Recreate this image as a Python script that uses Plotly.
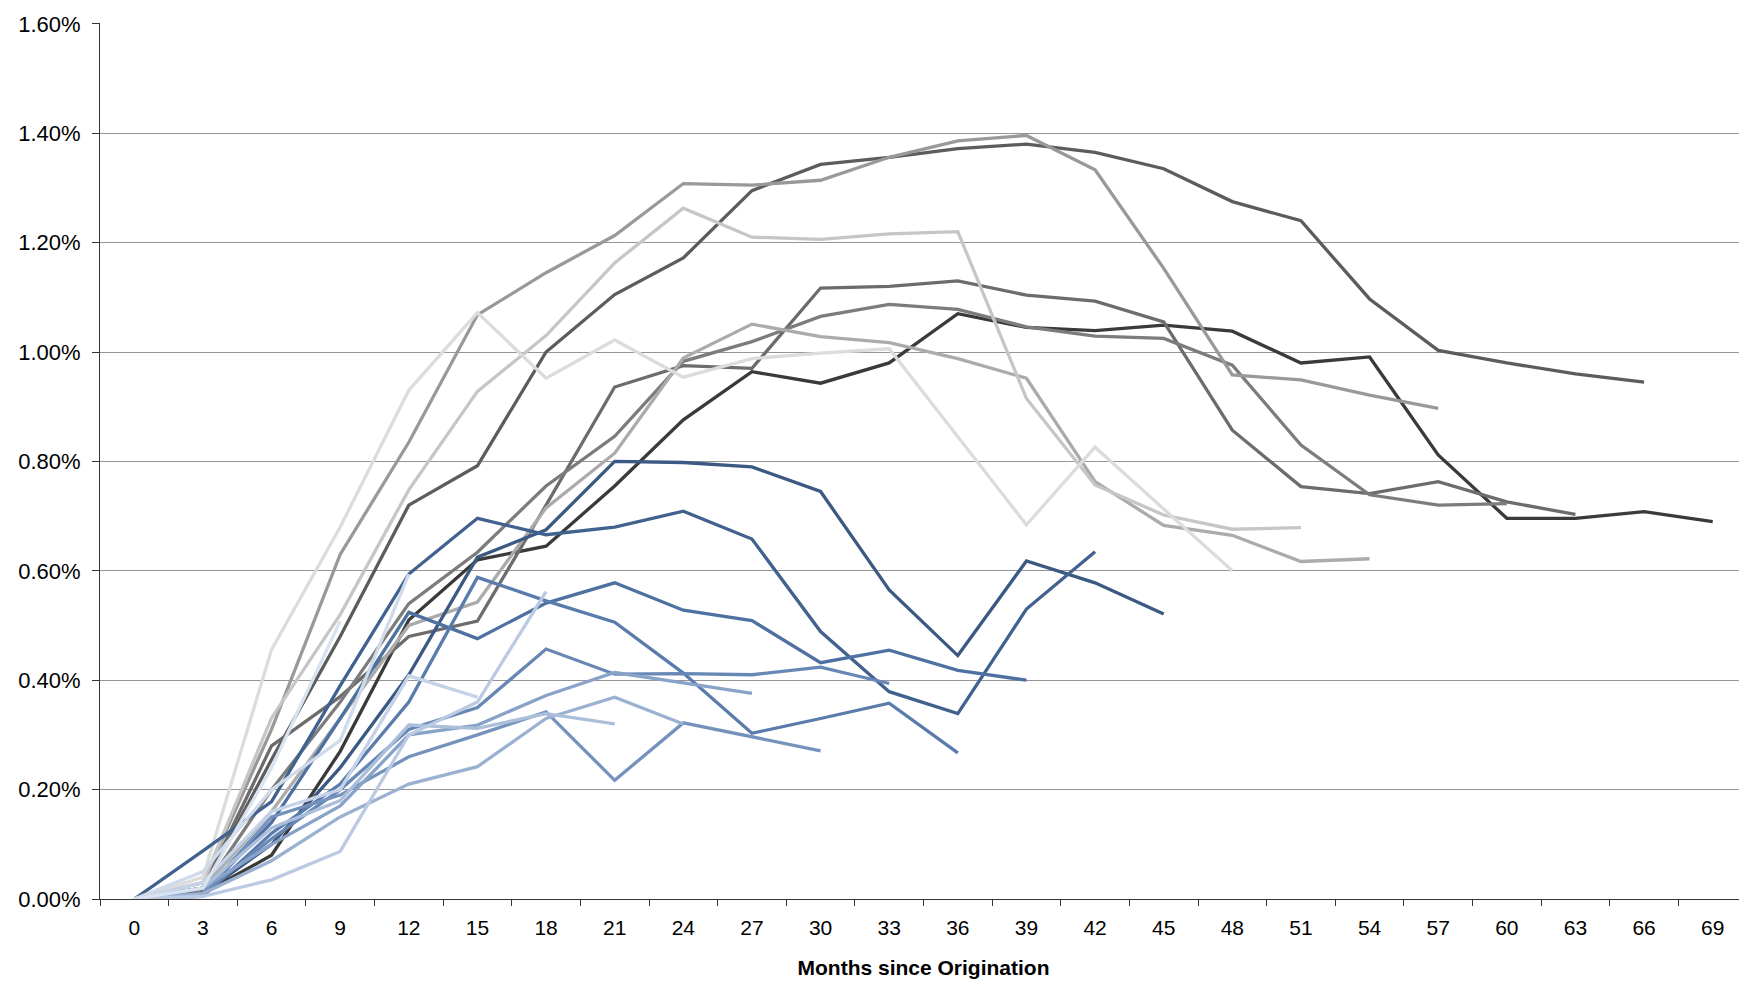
import plotly.graph_objects as go

months = list(range(0, 70, 3))
month_labels = [str(m) for m in months]
y_ticks = [0.0, 0.2, 0.4, 0.6, 0.8, 1.0, 1.2, 1.4, 1.6]
y_tick_labels = [f"{v:.2f}%" for v in y_ticks]

# Cumulative loss rate (%) by months since origination, one list per cohort
g1 = [0, 0.01, 0.08, 0.27, 0.51, 0.62, 0.645, 0.755, 0.876, 0.964, 0.943, 0.98, 1.07, 1.045, 1.039, 1.049, 1.038, 0.98, 0.991, 0.812, 0.696, 0.696, 0.708, 0.69]
g2 = [0, 0.02, 0.255, 0.48, 0.72, 0.792, 1.0, 1.105, 1.172, 1.295, 1.343, 1.356, 1.372, 1.38, 1.365, 1.335, 1.275, 1.24, 1.097, 1.003, 0.98, 0.96, 0.945]
g3 = [0, 0.02, 0.28, 0.37, 0.48, 0.508, 0.72, 0.936, 0.975, 0.97, 1.117, 1.12, 1.13, 1.104, 1.093, 1.055, 0.857, 0.754, 0.741, 0.763, 0.726, 0.703]
g4 = [0, 0.015, 0.2, 0.36, 0.54, 0.634, 0.755, 0.846, 0.983, 1.019, 1.065, 1.087, 1.078, 1.046, 1.029, 1.025, 0.976, 0.83, 0.739, 0.72, 0.723]
g5 = [0, 0.03, 0.31, 0.63, 0.835, 1.068, 1.145, 1.213, 1.308, 1.305, 1.314, 1.356, 1.386, 1.396, 1.333, 1.153, 0.958, 0.949, 0.921, 0.897]
g6 = [0, 0.02, 0.16, 0.33, 0.50, 0.543, 0.715, 0.815, 0.989, 1.051, 1.028, 1.017, 0.988, 0.952, 0.763, 0.683, 0.665, 0.617, 0.622]
g7 = [0, 0.03, 0.331, 0.52, 0.748, 0.928, 1.03, 1.163, 1.263, 1.21, 1.206, 1.216, 1.22, 0.915, 0.757, 0.702, 0.676, 0.679]
g8 = [0, 0.04, 0.456, 0.68, 0.93, 1.072, 0.952, 1.022, 0.954, 0.988, 0.998, 1.006, 0.845, 0.684, 0.826, 0.712, 0.60]
b1 = [0, 0.01, 0.10, 0.24, 0.41, 0.625, 0.675, 0.80, 0.798, 0.79, 0.745, 0.565, 0.445, 0.618, 0.578, 0.521]
b2 = [0, 0.088, 0.178, 0.39, 0.594, 0.696, 0.666, 0.68, 0.709, 0.658, 0.489, 0.379, 0.339, 0.53, 0.635]
b3 = [0, 0.01, 0.14, 0.33, 0.524, 0.476, 0.541, 0.578, 0.528, 0.509, 0.432, 0.455, 0.418, 0.40]
b4 = [0, 0.005, 0.12, 0.21, 0.36, 0.588, 0.545, 0.506, 0.413, 0.303, 0.33, 0.358, 0.267]
b5 = [0, 0.01, 0.11, 0.20, 0.31, 0.35, 0.457, 0.411, 0.412, 0.41, 0.424, 0.394]
b6 = [0, 0.01, 0.15, 0.19, 0.26, 0.30, 0.342, 0.217, 0.322, 0.296, 0.271]
b7 = [0, 0.02, 0.10, 0.17, 0.30, 0.318, 0.372, 0.414, 0.395, 0.376]
b8 = [0, 0.01, 0.07, 0.15, 0.21, 0.242, 0.33, 0.369, 0.32]
b9 = [0, 0.02, 0.13, 0.18, 0.318, 0.312, 0.339, 0.32]
b10 = [0, 0.005, 0.035, 0.087, 0.30, 0.36, 0.562]
b11 = [0, 0.03, 0.16, 0.20, 0.408, 0.369]
b12 = [0, 0.05, 0.20, 0.29, 0.594]
b13 = [0, 0.02, 0.24, 0.508]

series = [g1, g2, g3, g4, g5, g6, g7, g8,
          b1, b2, b3, b4, b5, b6, b7, b8, b9, b10, b11, b12, b13]
colors = ["#3a3a3a", "#5c5c5c", "#6c6c6c", "#7c7c7c", "#999999", "#ababab", "#c6c6c6", "#dcdcdc",
          "#3b5983", "#41628f", "#4e71a2", "#5a7cad", "#6787b5", "#7592bd", "#88a2c8",
          "#9bb1d2", "#abbfdb", "#bbcae2", "#c5d2e7", "#cfdaeb", "#d9e2f0"]

fig = go.Figure()
for i, (vals, col) in enumerate(zip(series, colors)):
    fig.add_trace(go.Scatter(
        x=month_labels[:len(vals)], y=vals, mode="lines",
        line=dict(color=col, width=3.3), name=f"Cohort {i + 1}",
        hovertemplate="%{x}: %{y:.2f}%<extra></extra>"))

font = "Liberation Sans, Arial, Helvetica, sans-serif"
fig.update_layout(
    width=1747, height=986,
    margin=dict(l=92, r=8, t=15, b=95),
    paper_bgcolor="white", plot_bgcolor="white",
    showlegend=False,
    font=dict(family=font, size=21, color="#000000"),
    xaxis=dict(
        type="category", categoryorder="array", categoryarray=month_labels,
        tickvals=month_labels, range=[-0.5, len(months) - 0.5],
        tickson="boundaries", ticks="outside", ticklen=6, tickcolor="#333333",
        showline=True, linecolor="#333333", linewidth=1, showgrid=False,
        tickfont=dict(size=21), ticklabelstandoff=10, automargin=False,
        title=dict(text="<b>Months since Origination</b>", font=dict(size=21), standoff=22),
    ),
    yaxis=dict(
        range=[0, 1.6015], tickmode="array", tickvals=y_ticks, ticktext=y_tick_labels,
        ticks="outside", ticklen=7, tickcolor="#333333",
        showline=True, linecolor="#333333", linewidth=1,
        showgrid=True, gridcolor="#959595", gridwidth=1, zeroline=False,
        tickfont=dict(size=22), ticklabelstandoff=7, automargin=False,
        ticklabeloverflow="allow",
    ),
)

fig.write_html("out.html")
